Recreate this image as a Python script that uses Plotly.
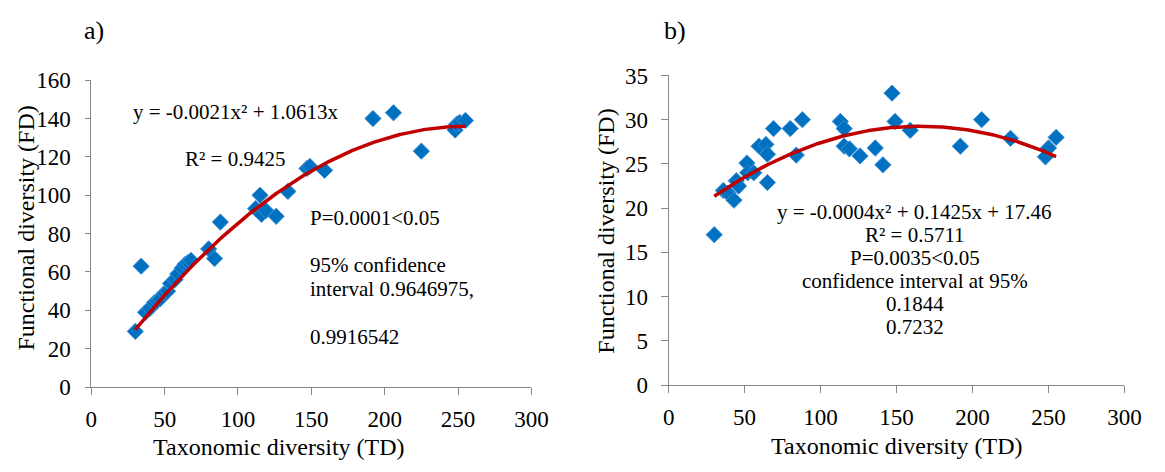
import numpy as np
import plotly.graph_objects as go

W, H = 1165, 472

# ---- panel a: functional vs taxonomic diversity ----
td_a = [30, 34, 37, 40, 43, 45, 47, 50, 52, 54, 57, 59, 62, 64, 66, 68,
        80, 84, 88, 112, 115, 116, 119, 126, 134, 147, 149, 159,
        192, 206, 225, 248, 249, 251, 255]
fd_a = [29, 63, 39, 41, 44, 45, 46, 49, 50, 54, 56, 59, 62, 64, 65, 66,
        72, 67, 86, 93, 100, 90, 92, 89, 102, 114, 115, 113,
        140, 143, 123, 134, 137, 138, 139]

# ---- panel b ----
td_b = [30, 36, 39, 43, 44.5, 46, 51.5, 52, 56, 59.5, 64, 65, 65, 69,
        80, 84, 88, 113, 115.5, 115.5, 119, 126, 136, 141, 147, 149, 159,
        192, 206, 225, 248, 250, 255]
fd_b = [17, 22, 21.7, 20.9, 23.1, 22.5, 25.1, 24, 24, 27, 27.2, 26.1, 22.9, 29,
        29, 26, 30, 29.8, 29, 27, 26.7, 25.9, 26.8, 24.9, 33, 29.8, 28.8,
        27, 30, 27.9, 25.8, 26.8, 28]

# quadratic trend-line coefficients, highest power first
trend_a = [-0.00207, 1.0613, 0.0]
trend_b = [-0.00043, 0.1425, 17.46]

x_ticks = [0, 50, 100, 150, 200, 250, 300]
y_ticks_a = [0, 20, 40, 60, 80, 100, 120, 140, 160]
y_ticks_b = [0, 5, 10, 15, 20, 25, 30, 35]

FONT = "Liberation Serif"
BLUE = "#0070C0"
RED = "#C00000"
AXIS = "#868686"


def px(x):
    return x / W


def py(y):
    return 1 - y / H


fig = go.Figure()

marker = dict(symbol="diamond", size=12.5, color=BLUE,
              line=dict(color="#3d8fd6", width=1))

fig.add_trace(go.Scatter(x=td_a, y=fd_a, mode="markers", marker=marker,
                         xaxis="x", yaxis="y", showlegend=False))
xa = np.linspace(min(td_a), max(td_a), 200)
fig.add_trace(go.Scatter(x=xa, y=np.polyval(trend_a, xa), mode="lines",
                         line=dict(color=RED, width=3.5),
                         xaxis="x", yaxis="y", showlegend=False))

fig.add_trace(go.Scatter(x=td_b, y=fd_b, mode="markers", marker=marker,
                         xaxis="x2", yaxis="y2", showlegend=False))
xb = np.linspace(min(td_b), max(td_b), 200)
fig.add_trace(go.Scatter(x=xb, y=np.polyval(trend_b, xb), mode="lines",
                         line=dict(color=RED, width=3.5),
                         xaxis="x2", yaxis="y2", showlegend=False))

axis_common = dict(showline=True, linecolor=AXIS, linewidth=1,
                   showgrid=False, zeroline=False, ticks="outside",
                   tickcolor=AXIS, tickfont=dict(family=FONT, size=23, color="black"))

fig.update_layout(
    width=W, height=H, margin=dict(l=0, r=0, t=0, b=0),
    paper_bgcolor="white", plot_bgcolor="white",
    xaxis=dict(domain=[px(87), px(536)], range=[0, 300], tickvals=x_ticks,
               ticklen=7, ticklabelstandoff=4, anchor="y", **axis_common),
    yaxis=dict(domain=[py(396), py(72)], range=[0, 160], tickvals=y_ticks_a,
               ticklen=5, ticklabelstandoff=10, anchor="x", **axis_common),
    xaxis2=dict(domain=[px(676), px(1141)], range=[0, 300], tickvals=x_ticks,
                ticklen=7, ticklabelstandoff=4, anchor="y2", **axis_common),
    yaxis2=dict(domain=[py(394), py(67)], range=[0, 35], tickvals=y_ticks_b,
                ticklen=7, ticklabelstandoff=8, anchor="x2", **axis_common),
)


def label(text, x, y, anchor="center", size=21, angle=0):
    fig.add_annotation(text=text, x=px(x), y=py(y), xref="paper", yref="paper",
                       xanchor=anchor, yanchor="middle", showarrow=False,
                       textangle=angle,
                       font=dict(family=FONT, size=size, color="black"))


# panel letters
label("a)", 90, 20, size=26)
label("b)", 682, 20, size=26)

# axis titles
label("Taxonomic diversity (TD)", 279, 459, size=24)
label("Taxonomic diversity (TD)", 909, 458, size=24)
label("Functional diversity (FD)", 20, 228, size=24, angle=-90)
label("Functional diversity (FD)", 612, 231, size=24, angle=-90)

# panel a statistics
label("y = -0.0021x² + 1.0613x", 128, 106, anchor="left")
label("R² = 0.9425", 181, 155, anchor="left")
label("P=0.0001<0.05", 308, 217, anchor="left")
label("95% confidence", 308, 267, anchor="left")
label("interval 0.9646975,", 308, 293, anchor="left")
label("0.9916542", 308, 343, anchor="left")

# panel b statistics
stats_b = ["y = -0.0004x² + 0.1425x + 17.46", "R² = 0.5711", "P=0.0035<0.05",
           "confidence interval at 95%", "0.1844", "0.7232"]
for i, t in enumerate(stats_b):
    label(t, 927, 211 + i * 24.4)

fig.write_html("out.html")
